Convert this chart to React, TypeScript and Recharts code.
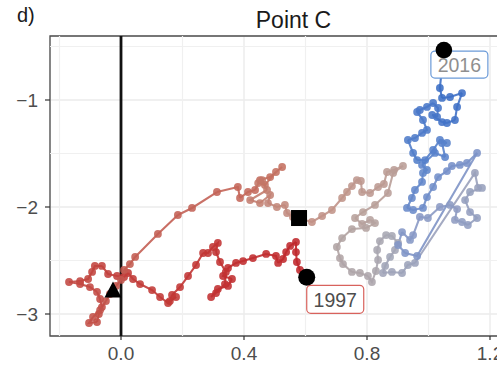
import React from 'react';
import { ScatterChart, Scatter, XAxis, YAxis, CartesianGrid, ReferenceLine, ReferenceArea } from 'recharts';

// trajectory, in time order, split into stretches (1997 -> 2016)
const redRun: [number, number][] = [
  [0.602, -2.664], [0.582, -2.589], [0.572, -2.514], [0.569, -2.421], [0.569, -2.327], [0.550, -2.364],
  [0.537, -2.421], [0.527, -2.486], [0.511, -2.523], [0.504, -2.458], [0.472, -2.439], [0.429, -2.477],
  [0.397, -2.505], [0.374, -2.523], [0.348, -2.570], [0.332, -2.645], [0.361, -2.673], [0.348, -2.738],
  [0.315, -2.766], [0.293, -2.841], [0.309, -2.804], [0.338, -2.720], [0.341, -2.607], [0.322, -2.514],
  [0.309, -2.421], [0.315, -2.336], [0.299, -2.374], [0.283, -2.430], [0.267, -2.430], [0.244, -2.542],
  [0.218, -2.645], [0.192, -2.748], [0.166, -2.822], [0.159, -2.879], [0.179, -2.841], [0.153, -2.897],
  [0.127, -2.841], [0.101, -2.776], [0.062, -2.720], [0.039, -2.673], [0.023, -2.617], [0.010, -2.654],
  [-0.013, -2.645], [-0.042, -2.626], [-0.062, -2.551], [-0.085, -2.551], [-0.094, -2.607], [-0.107, -2.673],
  [-0.133, -2.692], [-0.169, -2.701], [-0.133, -2.720], [-0.101, -2.748], [-0.078, -2.794], [-0.068, -2.860],
  [-0.062, -2.935], [-0.072, -3.0], [-0.078, -3.075], [-0.104, -3.084], [-0.091, -3.028], [-0.068, -2.963],
  [-0.049, -2.879], [-0.036, -2.813], [-0.016, -2.738], [0.0, -2.682], [0.010, -2.589], [0.029, -2.533],
  [0.046, -2.467],
];

const climbRun: [number, number][] = [
  [0.120, -2.252], [0.185, -2.075], [0.231, -2.009], [0.312, -1.860], [0.380, -1.813], [0.387, -1.916],
  [0.413, -1.860], [0.436, -1.841], [0.452, -1.748], [0.485, -1.720], [0.524, -1.626], [0.504, -1.673],
  [0.468, -1.794], [0.446, -1.776], [0.459, -1.748], [0.475, -1.841], [0.420, -1.935], [0.452, -1.963],
  [0.485, -1.888], [0.478, -1.963], [0.507, -2.0], [0.533, -1.981], [0.540, -2.056], [0.559, -2.093],
];

const tanRun: [number, number][] = [
  [0.621, -2.140], [0.654, -2.084], [0.686, -2.028], [0.719, -1.916], [0.735, -1.860], [0.751, -1.804],
  [0.767, -1.748], [0.780, -1.757], [0.784, -1.860], [0.810, -1.869], [0.836, -1.813], [0.855, -1.785],
  [0.865, -1.673], [0.888, -1.654], [0.917, -1.617], [0.885, -1.682], [0.868, -1.869], [0.826, -1.981],
  [0.787, -2.047], [0.761, -2.103], [0.784, -2.159], [0.810, -2.121], [0.826, -2.150], [0.797, -2.196],
  [0.751, -2.206], [0.719, -2.290], [0.702, -2.374], [0.712, -2.477], [0.722, -2.533], [0.751, -2.607],
  [0.777, -2.617], [0.803, -2.645], [0.816, -2.701], [0.829, -2.598], [0.836, -2.495], [0.833, -2.402],
  [0.842, -2.318], [0.862, -2.262],
];

const slateRun: [number, number][] = [
  [0.881, -2.271], [0.901, -2.336], [0.891, -2.402], [0.875, -2.467], [0.859, -2.551], [0.852, -2.617],
  [0.881, -2.607], [0.914, -2.617], [0.933, -2.542], [0.956, -2.523], [1.151, -1.682], [1.161, -1.822],
  [1.174, -1.822], [1.135, -1.860], [1.119, -1.935], [1.135, -2.047], [1.158, -2.103], [1.128, -2.168],
  [1.109, -2.140], [1.086, -2.121], [1.093, -2.019], [1.070, -1.981], [1.037, -2.0], [0.998, -2.103],
  [0.972, -2.093], [0.950, -2.262], [0.940, -2.308], [0.914, -2.234], [0.901, -2.355], [0.924, -2.430],
  [0.963, -2.458], [1.158, -1.495], [1.125, -1.589], [1.102, -1.607], [1.076, -1.617], [1.060, -1.664],
  [1.031, -1.720], [1.015, -1.813], [0.995, -1.907], [0.982, -2.009], [0.950, -2.028], [0.930, -2.009],
];

const blueRun: [number, number][] = [
  [0.946, -1.916], [0.956, -1.841], [0.979, -1.766], [0.982, -1.682], [0.995, -1.654], [0.979, -1.607],
  [1.021, -1.495], [1.054, -1.533], [1.044, -1.402], [1.060, -1.402], [1.037, -1.374], [1.015, -1.467],
  [0.989, -1.561], [0.963, -1.561], [0.950, -1.495], [0.933, -1.374], [0.956, -1.355], [0.979, -1.308],
  [0.995, -1.280], [0.982, -1.187], [0.963, -1.112], [0.972, -1.093], [0.995, -1.065], [1.015, -1.028],
  [1.031, -1.075], [1.028, -1.159], [1.012, -1.140], [1.044, -1.206], [1.060, -1.215], [1.086, -1.187],
  [1.093, -1.065], [1.109, -0.935], [1.070, -0.972], [1.044, -0.981], [1.037, -0.888], [1.050, -0.533],
];

const startPoint = [{ x: 0.604, y: -2.657, label: '1997' }];
const endPoint = [{ x: 1.050, y: -0.533, label: '2016' }];
const trianglePoint = [{ x: -0.026, y: -2.776 }];
const squarePoint = [{ x: 0.579, y: -2.103 }];

const xTicks = [0, 0.4, 0.8, 1.2];
const yTicks = [-3, -2, -1];
const xMinor = [-0.2, 0.2, 0.6, 1.0];
const yMinor = [-2.5, -1.5, -0.5];

const xDomain: [number, number] = [-0.2309, 1.3626];
const yDomain: [number, number] = [-3.2056, -0.4019];

// red -> grey -> blue, along time
const stops: [number, string][] = [
  [0, '#bf262b'],
  [0.18, '#c23a37'],
  [0.3, '#c3554c'],
  [0.38, '#c47262'],
  [0.45, '#c19489'],
  [0.55, '#b5a39f'],
  [0.63, '#a5a7b5'],
  [0.75, '#8798c6'],
  [0.86, '#5b84cc'],
  [1, '#3a6dc5'],
];

const hex = (c: string) => [1, 3, 5].map((i) => parseInt(c.slice(i, i + 2), 16));

function shade(t: number) {
  for (let i = 1; i < stops.length; i++) {
    const [t1, c1] = stops[i];
    const [t0, c0] = stops[i - 1];
    if (t <= t1) {
      const f = (t - t0) / (t1 - t0);
      const a = hex(c0);
      const b = hex(c1);
      const rgb = a.map((v, k) => Math.round(v + (b[k] - v) * f));
      return `rgb(${rgb.join(',')})`;
    }
  }
  return stops[stops.length - 1][1];
}

const track = [...redRun, ...climbRun, ...tanRun, ...slateRun, ...blueRun].map(([x, y], i, all) => ({
  x,
  y,
  colour: shade(i / (all.length - 1)),
}));

const CHUNK = 2;
const pieces: { key: number; pts: typeof track; colour: string }[] = [];
for (let i = 0; i < track.length - 1; i += CHUNK) {
  const pts = track.slice(i, i + CHUNK + 1);
  pieces.push({ key: i, pts, colour: shade((i + (pts.length - 1) / 2) / (track.length - 1)) });
}

const font = '"Liberation Sans", Arial, Helvetica, sans-serif';
const tickStyle = { fill: '#4d4d4d', fontSize: 19, fontFamily: font };

const noDot = () => <g />;

const Dot = (props: any) => (
  <circle cx={props.cx} cy={props.cy} r={3.9} fill={props.payload.colour} fillOpacity={0.88} />
);

const Triangle = (props: any) => {
  const { cx, cy } = props;
  return <polygon points={`${cx},${cy - 8.5} ${cx - 8.5},${cy + 7.5} ${cx + 8.5},${cy + 7.5}`} fill="#000" />;
};

const Square = (props: any) => <rect x={props.cx - 8} y={props.cy - 8} width={16} height={16} fill="#000" />;

const StartTag = (props: any) => {
  const { cx, cy, payload } = props;
  return (
    <g>
      <rect x={cx} y={cy + 8} width={57} height={28} rx={4} fill="#fff" stroke="#d8625c" strokeWidth={1.2} />
      <text x={cx + 28.5} y={cy + 22.5} textAnchor="middle" dominantBaseline="central" fontSize={19.5} fontFamily={font} fill="#4d4d4d">
        {payload.label}
      </text>
      <circle cx={cx} cy={cy} r={8.5} fill="#000" />
    </g>
  );
};

const EndTag = (props: any) => {
  const { cx, cy, payload } = props;
  return (
    <g>
      <rect x={cx - 13} y={cy + 1} width={57} height={27} rx={4} fill="#fff" stroke="#6b9ad8" strokeWidth={1.2} />
      <text x={cx + 15.5} y={cy + 15} textAnchor="middle" dominantBaseline="central" fontSize={19.5} fontFamily={font} fill="#8f8f8f">
        {payload.label}
      </text>
      <circle cx={cx} cy={cy} r={8.3} fill="#000" />
    </g>
  );
};

export default function App() {
  return (
    <div style={{ position: 'absolute', left: 0, top: 0, width: 497, height: 370, overflow: 'hidden', background: '#fff' }}>
      <div style={{ position: 'absolute', left: 17, top: 5, fontFamily: font, fontSize: 20, lineHeight: '20px', color: '#1a1a1a' }}>d)</div>
      <div
        style={{
          position: 'absolute',
          left: 293.5,
          top: 9,
          transform: 'translateX(-50%)',
          fontFamily: font,
          fontSize: 23,
          lineHeight: '23px',
          color: '#1a1a1a',
          whiteSpace: 'nowrap',
        }}
      >
        Point C
      </div>
      <ScatterChart width={540} height={370} margin={{ top: 36, right: 0, bottom: 0, left: 0 }}>
        <CartesianGrid stroke="#ebebeb" strokeWidth={1.4} />
        {xMinor.map((v) => (
          <ReferenceLine key={`vx${v}`} x={v} stroke="#f0f0f0" strokeWidth={1.2} />
        ))}
        {yMinor.map((v) => (
          <ReferenceLine key={`hy${v}`} y={v} stroke="#f0f0f0" strokeWidth={1.2} />
        ))}
        <XAxis
          type="number"
          dataKey="x"
          domain={xDomain}
          allowDataOverflow
          ticks={xTicks}
          interval={0}
          height={34}
          axisLine={false}
          tickLine={{ stroke: '#333', strokeWidth: 1.2 }}
          tickSize={4}
          tickMargin={7}
          tick={tickStyle}
          tickFormatter={(v: number) => v.toFixed(1)}
        />
        <YAxis
          type="number"
          dataKey="y"
          domain={yDomain}
          allowDataOverflow
          ticks={yTicks}
          interval={0}
          width={50}
          axisLine={false}
          tickLine={{ stroke: '#333', strokeWidth: 1.2 }}
          tickSize={5}
          tickMargin={7}
          tick={tickStyle}
          tickFormatter={(v: number) => `\u2212${Math.abs(v)}`}
        />
        <ReferenceArea x1={xDomain[0]} x2={xDomain[1]} y1={yDomain[0]} y2={yDomain[1]} fill="none" stroke="#4d4d4d" strokeWidth={1.3} />
        <ReferenceLine x={0} stroke="#111" strokeWidth={2.8} />
        {pieces.map((p) => (
          <Scatter
            key={p.key}
            data={p.pts}
            line={{ stroke: p.colour, strokeWidth: 2.1, strokeOpacity: 0.9 }}
            shape={noDot}
            isAnimationActive={false}
          />
        ))}
        <Scatter data={track} shape={Dot} isAnimationActive={false} />
        <Scatter data={trianglePoint} shape={Triangle} isAnimationActive={false} />
        <Scatter data={squarePoint} shape={Square} isAnimationActive={false} />
        <Scatter data={startPoint} shape={StartTag} isAnimationActive={false} />
        <Scatter data={endPoint} shape={EndTag} isAnimationActive={false} />
      </ScatterChart>
    </div>
  );
}
